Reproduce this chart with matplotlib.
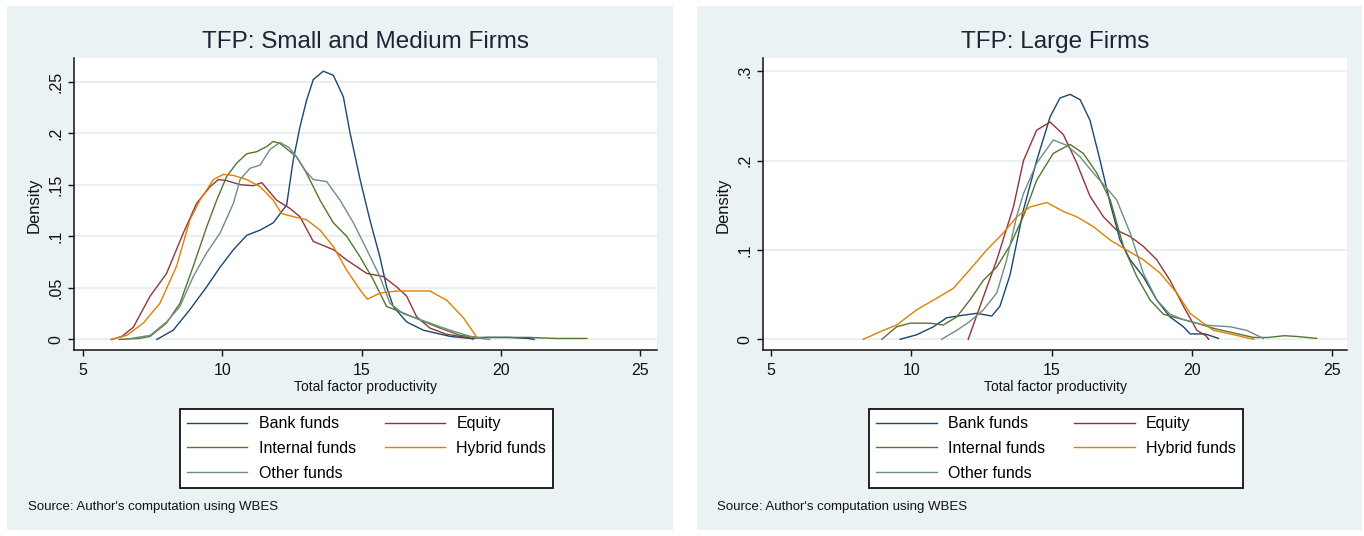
import numpy as np
import matplotlib
matplotlib.use('Agg')
from matplotlib import pyplot as plt
from matplotlib.patches import Rectangle

plt.rcParams['font.family'] = ['Liberation Sans', 'DejaVu Sans']

# ---- small and medium firms ----
bank_x_sm = [7.65, 8.24, 8.84, 9.44, 9.92, 10.4, 10.88, 11.36, 11.83, 12.19, 12.31, 12.55, 12.79, 13.03,
             13.27, 13.63, 13.99, 14.35, 14.59, 14.95, 15.3, 15.66, 15.9, 16.14, 16.62, 17.22, 18.18,
             18.9, 19.5, 20.3, 21.0, 21.2]
bank_y_sm = [0, .009, .029, .051, .070, .087, .101, .106, .113, .126, .130, .174, .206, .232,
             .252, .260, .256, .235, .200, .155, .116, .080, .051, .032, .017, .009, .003,
             .001, .002, .002, .001, 0]

equity_x_sm = [6.03, 6.4, 6.81, 7.41, 8.0, 8.6, 9.08, 9.56, 9.86, 10.16, 10.64, 11.11, 11.42, 11.95,
               12.43, 12.79, 13.27, 13.99, 14.47, 15.19, 15.78, 16.26, 16.62, 16.98, 17.46, 18.06,
               18.9, 19.0]
equity_y_sm = [0, .003, .012, .042, .064, .103, .132, .148, .155, .154, .150, .149, .152, .135,
               .127, .119, .095, .087, .077, .064, .061, .051, .042, .022, .011, .005,
               .0015, 0]

internal_x_sm = [6.3, 7.0, 7.41, 8.0, 8.48, 8.96, 9.44, 9.8, 10.16, 10.52, 10.88, 11.24, 11.6, 11.83,
                 12.07, 12.67, 13.03, 13.51, 13.99, 14.47, 14.95, 15.42, 15.9, 16.38, 17.1, 17.82,
                 18.54, 19.2, 20.0, 21.0, 22.0, 23.09]
internal_y_sm = [0, .001, .003, .016, .035, .071, .109, .135, .158, .171, .180, .182, .187, .192,
                 .190, .177, .161, .135, .113, .100, .080, .058, .032, .027, .019, .011,
                 .004, .002, .002, .002, .001, .001]

hybrid_x_sm = [6.0, 6.57, 7.17, 7.76, 8.36, 8.84, 9.2, 9.68, 10.04, 10.4, 10.88, 11.36, 11.83, 12.13,
               12.55, 13.03, 13.51, 13.99, 14.47, 14.95, 15.21, 15.66, 16.26, 17.46, 18.06, 18.66,
               19.14]
hybrid_y_sm = [0, .004, .016, .035, .071, .116, .135, .155, .160, .159, .155, .148, .135, .122,
               .119, .116, .106, .090, .067, .048, .039, .045, .047, .047, .038, .021,
               .002]

other_x_sm = [6.5, 7.41, 8.0, 8.48, 8.96, 9.44, 9.92, 10.4, 10.64, 11.0, 11.36, 11.71, 12.07, 12.4,
              12.67, 13.0, 13.27, 13.75, 14.23, 14.71, 15.19, 15.66, 16.02, 16.5, 17.34, 18.18,
              18.9, 19.3, 19.6]
other_y_sm = [0, .004, .017, .032, .061, .084, .103, .132, .155, .166, .169, .184, .191, .186,
              .177, .163, .155, .153, .135, .113, .087, .061, .035, .025, .017, .009,
              .003, .001, 0]

# ---- large firms ----
bank_x_lg = [9.6, 10.19, 10.79, 11.26, 11.86, 12.33, 12.87, 13.16, 13.52, 14.0, 14.47, 14.95, 15.3,
             15.66, 16.02, 16.37, 16.73, 17.09, 17.44, 17.8, 18.27, 18.75, 19.22, 19.7, 19.94,
             20.47, 20.95]
bank_y_lg = [0, .005, .014, .024, .027, .029, .026, .037, .072, .145, .200, .249, .270,
             .274, .268, .245, .200, .152, .111, .089, .070, .044, .025, .014, .006,
             .006, .001]

equity_x_lg = [12.03, 12.45, 13.05, 13.64, 14.0, 14.47, 14.95, 15.42, 15.9, 16.37, 16.85, 17.32,
               17.8, 18.27, 18.75, 19.22, 19.7, 20.18, 20.5, 20.6]
equity_y_lg = [0, .037, .089, .148, .200, .234, .243, .229, .197, .160, .137, .122,
               .115, .104, .089, .066, .037, .010, .004, 0]

internal_x_lg = [8.95, 9.48, 9.96, 10.67, 11.14, 11.62, 12.09, 12.57, 13.05, 13.52, 14.0, 14.47,
                 15.06, 15.66, 16.13, 16.61, 17.09, 17.56, 18.04, 18.51, 18.99, 19.46, 20.18,
                 20.8, 21.36, 22.2, 22.7, 23.3, 23.8, 24.45]
internal_y_lg = [0, .014, .018, .018, .016, .025, .044, .066, .081, .105, .138, .178,
                 .208, .218, .208, .186, .156, .104, .070, .044, .028, .024, .018,
                 .012, .008, .002, .002, .004, .003, .001]

hybrid_x_lg = [8.29, 8.89, 9.48, 10.19, 10.91, 11.5, 12.09, 12.69, 13.28, 13.76, 14.23, 14.83,
               15.42, 15.9, 16.49, 17.09, 17.56, 18.27, 18.87, 19.46, 19.94, 20.41, 20.77,
               21.5, 22.2]
hybrid_y_lg = [0, .0085, .016, .033, .046, .057, .078, .100, .119, .137, .148, .153,
               .143, .137, .126, .111, .102, .089, .074, .052, .029, .018, .010,
               .005, 0]

other_x_lg = [11.08, 11.62, 12.09, 12.57, 13.05, 13.4, 13.76, 14.0, 14.47, 15.06, 15.54, 16.02,
              16.49, 16.97, 17.32, 17.8, 18.27, 18.75, 19.22, 19.7, 20.41, 21.36, 21.95, 22.55]
other_y_lg = [0, .010, .020, .033, .052, .089, .138, .163, .197, .223, .217, .204,
              .186, .169, .156, .119, .074, .044, .028, .022, .016, .014, .010, .001]

names = ['Bank funds', 'Equity', 'Internal funds', 'Hybrid funds', 'Other funds']
colors = ['#1a476f', '#90353b', '#55752f', '#e37e00', '#6e8e84']

bg = '#eaf2f3'
W, H = 1364, 536

fig = plt.figure(figsize=(W / 100, H / 100), dpi=100)
fig.patch.set_facecolor('white')

# grey graph regions behind each panel
for x0, x1 in [(7, 673), (697, 1362)]:
    fig.add_artist(Rectangle((x0 / W, 1 - 530 / H), (x1 - x0) / W, 524 / H,
                             transform=fig.transFigure, facecolor=bg, edgecolor='none', zorder=0))


def panel(left, right, title, data, ylim, yticks, ylabels, xlim):
    ax = fig.add_axes([left / W, 1 - 350 / H, (right - left) / W, 292 / H])
    ax.set_facecolor('white')
    lines = []
    for (xs, ys), c, n in zip(data, colors, names):
        l, = ax.plot(xs, ys, color=c, lw=1.0, label=n)
        lines.append(l)
    ax.set_xlim(xlim)
    ax.set_ylim(ylim)
    ax.set_xticks([5, 10, 15, 20, 25])
    ax.set_yticks(yticks)
    ax.set_yticklabels(ylabels)
    ax.grid(axis='y', color='#e4edef', lw=1.2)
    ax.set_axisbelow(True)
    for s in ['top', 'right']:
        ax.spines[s].set_visible(False)
    for s in ['left', 'bottom']:
        ax.spines[s].set_color('#111111')
        ax.spines[s].set_linewidth(1.1)
    ax.tick_params(axis='both', length=4.5, width=1.0, color='#111111', labelsize=11.5,
                   labelcolor='#111111')
    ax.tick_params(axis='x', pad=5)
    ax.tick_params(axis='y', pad=3)
    for t in ax.get_yticklabels():
        t.set_rotation(90)
        t.set_va('center')
    ax.set_title(title, fontsize=17.5, color='#1c2533', pad=7)
    cx = (left + right) / 2
    fig.text(cx / W, 1 - 387 / H, 'Total factor productivity', ha='center', va='center',
             fontsize=10, color='#111111')
    fig.text((left - 40) / W, 1 - 205 / H, 'Density', rotation=90, ha='center', va='center',
             fontsize=12, color='#111111')
    fig.text((left - 46) / W, 1 - 507 / H, "Source: Author's computation using WBES",
             ha='left', va='center', fontsize=9.5, color='#111111')
    order = [0, 2, 4, 1, 3]
    leg = fig.legend([lines[i] for i in order], [names[i] for i in order],
                     loc='center', bbox_to_anchor=((cx + 1) / W, 1 - 448.5 / H), ncol=2,
                     frameon=True, fancybox=False, edgecolor='#111111', facecolor='white',
                     framealpha=1, fontsize=11.5, handlelength=3.8, handletextpad=0.7,
                     columnspacing=1.8, labelspacing=0.62, borderpad=0.45)
    leg.get_frame().set_linewidth(1.3)
    return ax


small = [(bank_x_sm, bank_y_sm), (equity_x_sm, equity_y_sm), (internal_x_sm, internal_y_sm),
         (hybrid_x_sm, hybrid_y_sm), (other_x_sm, other_y_sm)]
large = [(bank_x_lg, bank_y_lg), (equity_x_lg, equity_y_lg), (internal_x_lg, internal_y_lg),
         (hybrid_x_lg, hybrid_y_lg), (other_x_lg, other_y_lg)]

panel(74, 657, 'TFP: Small and Medium Firms', small, (-0.0102, 0.2728),
      [0, .05, .1, .15, .2, .25], ['0', '.05', '.1', '.15', '.2', '.25'], (4.677, 25.61))
panel(763, 1347, 'TFP: Large Firms', large, (-0.012, 0.3147),
      [0, .1, .2, .3], ['0', '.1', '.2', '.3'], (4.715, 25.53))

fig.savefig('out.png', dpi=100)
